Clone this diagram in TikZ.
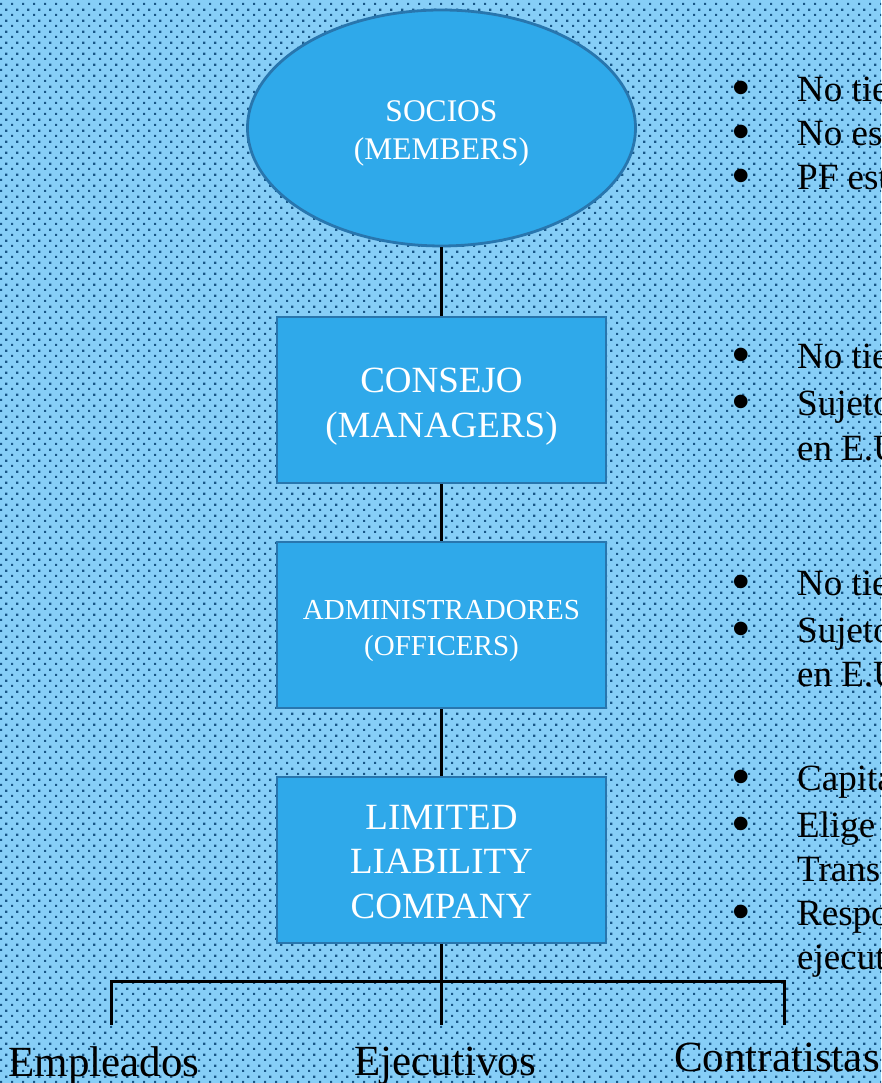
\documentclass[tikz,border=0pt]{standalone}
\usepackage{fontspec}
\setmainfont{Liberation Serif}
\newfontfamily\bulfont{Liberation Sans}
\usetikzlibrary{patterns.meta,shapes.geometric}
\definecolor{bgblue}{RGB}{134,206,247}
\definecolor{dotblue}{RGB}{24,86,134}
\definecolor{fillblue}{RGB}{47,169,234}
\definecolor{edgeblue}{RGB}{40,118,174}
\tikzdeclarepattern{
  name=bgdots,
  type=uncolored,
  bottom left={(0pt,0pt)},
  top right={(10.67pt,10.67pt)},
  tile size={(10.67pt,10.67pt)},
  code={
    \fill (0pt,0pt) rectangle (2.2pt,2.2pt);
    \fill (5.33pt,5.33pt) rectangle (7.53pt,7.53pt);
  }
}
\tikzset{
  orgbox/.style={draw=edgeblue, line width=2.8pt, fill=fillblue,
    minimum width=329pt, minimum height=166pt, inner sep=0pt},
  boxtext/.style={text=white, align=center, inner sep=0pt},
  conn/.style={draw=black, line width=3pt},
  bul/.style={anchor=base, inner sep=0pt, text height=24pt, text depth=0pt,
    font=\bulfont\fontsize{50}{50}\selectfont},
  btxt/.style={anchor=base west, inner sep=0pt, font=\fontsize{37}{44}\selectfont},
  lowlab/.style={anchor=base, inner sep=0pt, font=\fontsize{43}{50}\selectfont}
}
\begin{document}
\begin{tikzpicture}[x=1pt,y=1pt]
\useasboundingbox (0,0) rectangle (881,1083);
\clip (0,0) rectangle (881,1083);
\fill[bgblue] (0,0) rectangle (881,1083);
\fill[pattern=bgdots, pattern color=dotblue] (0,0) rectangle (881,1083);

% main chain
\node[ellipse, draw=edgeblue, line width=2.8pt, fill=fillblue,
  minimum width=388pt, minimum height=236pt, inner sep=0pt] (soc) at (441.5,955) {};
\node[boxtext, font=\fontsize{31.5}{38}\selectfont] (socT) at ([yshift=-5pt]soc.center) {SOCIOS\\(MEMBERS)};
\node[orgbox] (con) at (441.5,683) {};
\node[boxtext, font=\fontsize{37}{45}\selectfont] (conT) at ([yshift=-7pt]con.center) {CONSEJO\\(MANAGERS)};
\node[orgbox] (adm) at (441.5,458) {};
\node[boxtext, font=\fontsize{29}{36}\selectfont] (admT) at ([yshift=-6pt]adm.center) {ADMINISTRADORES\\(OFFICERS)};
\node[orgbox] (llc) at (441.5,223) {};
\node[boxtext, font=\fontsize{37}{44.5}\selectfont] (llcT) at ([yshift=-2pt]llc.center) {LIMITED\\LIABILITY\\COMPANY};

\draw[conn] (soc.south) -- (con.north);
\draw[conn] (con.south) -- (adm.north);
\draw[conn] (adm.south) -- (llc.north);

% bottom tree
\coordinate (mid) at (441.5,58);
\coordinate (l1) at (111,58);
\coordinate (l2) at (111,101);
\coordinate (r2) at (784,101);
\coordinate (r1) at (784,58);
\draw[conn] (llc.south) -- (mid);
\draw[conn] (l1) -- (l2) -- (r2) -- (r1);

\node[lowlab] (emp) at (104,6) {Empleados};
\node[lowlab] (eje) at (445,8) {Ejecutivos};
\node[lowlab] (cnt) at (777,11) {Contratistas};

% right bullets
\node[bul] (b1) at (741,978) {•};
\node[btxt] (t1) at (797,981) {No tien};
\node[bul] (b2) at (741,934) {•};
\node[btxt] (t2) at (797,937) {No est};
\node[bul] (b3) at (741,890) {•};
\node[btxt] (t3) at (797,893) {PF est};

\node[bul] (b4) at (741,711) {•};
\node[btxt] (t4) at (797,714) {No tien};
\node[bul] (b5) at (741,664) {•};
\node[btxt] (t5) at (797,667) {Sujeto};
\node[btxt] (t6) at (797,622) {en E.U.};

\node[bul] (b7) at (741,484) {•};
\node[btxt] (t7) at (797,487) {No tien};
\node[bul] (b8) at (741,437) {•};
\node[btxt] (t8) at (797,440) {Sujeto};
\node[btxt] (t9) at (797,396) {en E.U.};

\node[bul] (b10) at (741,289) {•};
\node[btxt] (t10) at (797,292) {Capital};
\node[bul] (b11) at (741,242) {•};
\node[btxt] (t11) at (797,245) {Elige};
\node[btxt] (t12) at (797,201) {Trans};
\node[bul] (b13) at (741,154) {•};
\node[btxt] (t13) at (797,157) {Respo};
\node[btxt] (t14) at (797,113) {ejecut};
\end{tikzpicture}
\end{document}
